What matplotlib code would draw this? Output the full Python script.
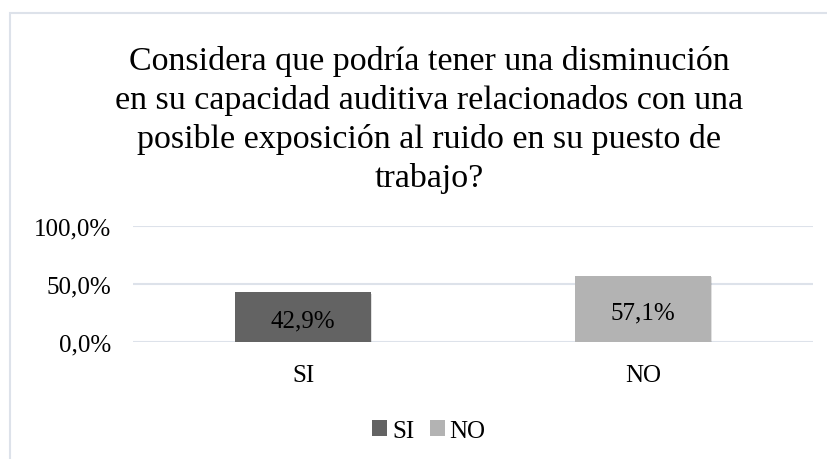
import matplotlib
matplotlib.use("Agg")
import matplotlib.pyplot as plt
from matplotlib.patches import Rectangle, Patch
import matplotlib.patheffects as pe

categories = ["SI", "NO"]
values = [42.9, 57.1]
colors = ["#636363", "#b3b3b3"]
yticks = [0, 50, 100]
ytick_labels = ["0,0%", "50,0%", "100,0%"]
title = ("Considera que podría tener una disminución\n"
         "en su capacidad auditiva relacionados con una\n"
         "posible exposición al ruido en su puesto de\n"
         "trabajo?")

plt.rcParams['font.family'] = ['Liberation Serif', 'DejaVu Serif']

W, H = 827, 460
fig = plt.figure(figsize=(W/100, H/100), dpi=100)

# chart border
fig.add_artist(Rectangle((10/W, 0 - 0.1), 2.0, (H - 14)/H + 0.1,
                         transform=fig.transFigure, fill=False,
                         edgecolor="#dde2ea", linewidth=1.5))

ax = fig.add_axes([133/W, 1 - 343/H, (813 - 133)/W, (343 - 227)/H])
x = list(range(len(categories)))
bars = ax.bar(x, values, width=0.40, color=colors, zorder=3)
for b in bars:
    b.set_path_effects([pe.SimplePatchShadow(offset=(1.0, -1.0), alpha=0.12, shadow_rgbFace="#000000"), pe.Normal()])
for xi, v in zip(x, values):
    ax.text(xi, v/2 - 3, f"{v:.1f}%".replace(".", ","), ha="center", va="center",
            fontsize=18, color="#000000", zorder=4)

ax.set_xlim(-0.5, len(categories) - 0.5)
ax.set_ylim(0, 100)
ax.set_yticks(yticks)
ax.set_yticklabels(ytick_labels, fontsize=18)
ax.set_xticks(x)
ax.set_xticklabels(categories, fontsize=18)
ax.tick_params(axis="both", length=0)
ax.tick_params(axis="y", pad=16)
ax.tick_params(axis="x", pad=16)
ax.grid(axis="y", color="#dde2ea", linewidth=1.5, zorder=0)
for s in ax.spines.values():
    s.set_visible(False)

fig.text(429/W, 1 - 120/H, title, ha="center", va="center", fontsize=24.5,
         linespacing=1.34)

handles = [Patch(facecolor=c, edgecolor="none") for c in colors]
fig.legend(handles, categories, loc="center", bbox_to_anchor=(429/W, 1 - 432/H),
           ncol=2, frameon=False, fontsize=18, handlelength=0.6, handleheight=0.6,
           handletextpad=0.2, columnspacing=0.6)

fig.savefig("out.png", dpi=100)
